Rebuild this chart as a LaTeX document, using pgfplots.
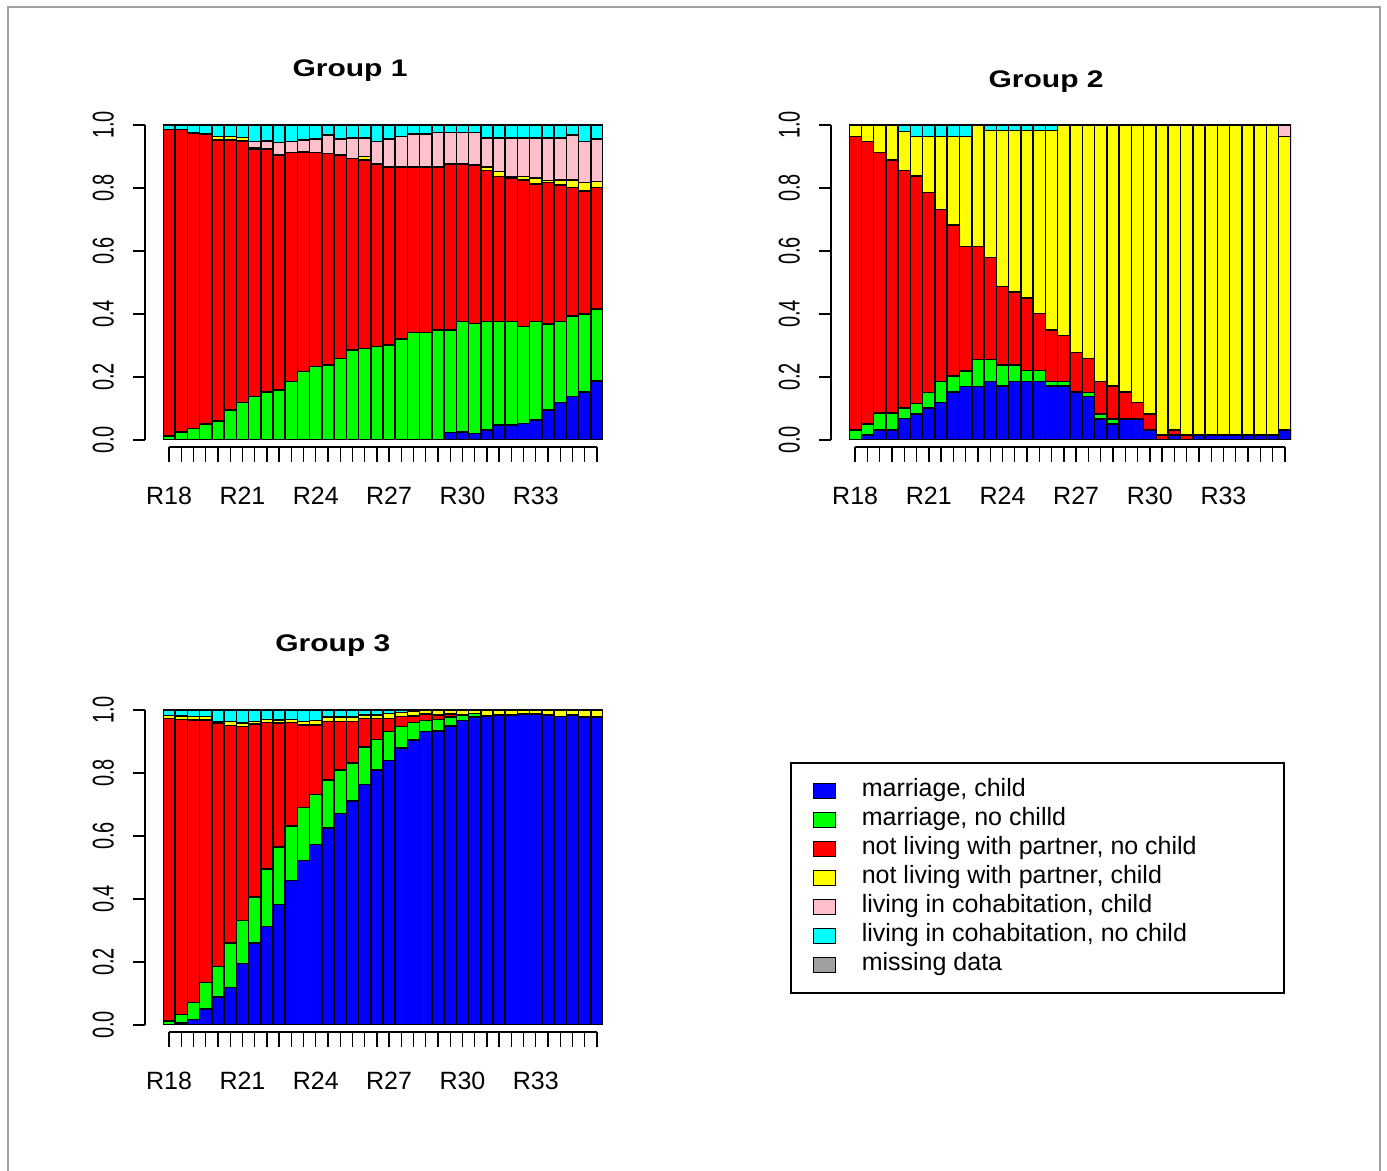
\documentclass[border=0pt]{standalone}
\usepackage{fontspec}
\setmainfont{Liberation Sans}
\usepackage{graphicx}
\usepackage{pgfplots}
\usepackage{pgfplotstable}
\pgfplotsset{compat=1.18}

\definecolor{cB}{HTML}{0000FF}
\definecolor{cG}{HTML}{00FF00}
\definecolor{cR}{HTML}{FF0000}
\definecolor{cY}{HTML}{FFFF00}
\definecolor{cP}{HTML}{FFC0CB}
\definecolor{cC}{HTML}{00FFFF}
\definecolor{cM}{HTML}{A0A0A0}
\definecolor{frame}{HTML}{A0A0A0}

% columns: B = marriage, child; G = marriage, no child; R = not living with partner, no child;
% Y = not living with partner, child; P = cohabitation, child; C = cohabitation, no child
\pgfplotstableread{
x B G R Y P C
0 0 .013 .973 0 0 .014
1 0 .026 .960 0 0 .014
2 0 .037 .937 0 0 .026
3 0 .051 .920 0 0 .029
4 0 .061 .891 .011 0 .037
5 0 .095 .857 .011 0 .037
6 0 .119 .830 .012 0 .039
7 0 .138 .785 .005 .019 .053
8 0 .153 .770 0 .026 .051
9 0 .159 .746 0 .040 .055
10 0 .185 .727 0 .035 .053
11 0 .217 .698 0 .037 .048
12 0 .233 .679 0 .043 .045
13 0 .238 .672 0 .058 .032
14 0 .259 .646 0 .050 .045
15 0 .286 .608 0 .064 .042
16 0 .291 .598 .011 .058 .042
17 0 .296 .580 0 .071 .053
18 0 .302 .564 0 .089 .045
19 0 .320 .546 0 .097 .037
20 0 .341 .525 0 .105 .029
21 0 .342 .524 0 .105 .029
22 0 .349 .517 0 .110 .024
23 .023 .326 .527 0 .100 .024
24 .026 .350 .500 0 .100 .024
25 .021 .349 .503 0 .103 .024
26 .032 .344 .479 .011 .092 .042
27 .048 .328 .460 .016 .106 .042
28 .048 .328 .455 .005 .122 .042
29 .053 .307 .465 .011 .122 .042
30 .063 .313 .437 .018 .127 .042
31 .095 .273 .449 .006 .135 .042
32 .119 .257 .434 .015 .133 .042
33 .138 .256 .408 .023 .143 .032
34 .153 .247 .390 .027 .130 .053
35 .188 .228 .386 .018 .135 .045
}\groupA

\pgfplotstableread{
x B G R Y P C
0 0 .032 .931 .037 0 0
1 .016 .034 .897 .053 0 0
2 .032 .053 .827 .088 0 0
3 .032 .053 .804 .111 0 0
4 .069 .032 .754 .124 0 .021
5 .083 .033 .722 .125 0 .037
6 .101 .049 .635 .178 0 .037
7 .119 .066 .547 .231 0 .037
8 .153 .050 .480 .280 0 .037
9 .169 .050 .395 .349 0 .037
10 .169 .087 .358 .386 0 0
11 .185 .071 .324 .402 0 .018
12 .171 .067 .249 .495 0 .018
13 .185 .053 .231 .513 0 .018
14 .185 .035 .230 .532 0 .018
15 .185 .035 .182 .580 0 .018
16 .171 .014 .164 .633 0 .018
17 .171 .014 .146 .669 0 0
18 .153 0 .124 .723 0 0
19 .138 .012 .109 .741 0 0
20 .066 .017 .102 .815 0 0
21 .051 .015 .105 .829 0 0
22 .066 0 .087 .847 0 0
23 .066 0 .053 .881 0 0
24 .032 0 .051 .917 0 0
25 0 0 .016 .984 0 0
26 .016 0 .016 .968 0 0
27 0 0 .016 .984 0 0
28 .016 0 0 .984 0 0
29 .016 0 0 .984 0 0
30 .016 0 0 .984 0 0
31 .016 0 0 .984 0 0
32 .016 0 0 .984 0 0
33 .016 0 0 .984 0 0
34 .016 0 0 .984 0 0
35 .032 0 0 .931 .037 0
}\groupB

\pgfplotstableread{
x B G R Y P C
0 0 .013 .960 .010 0 .017
1 .007 .027 .936 .011 0 .019
2 .018 .053 .897 .011 0 .021
3 .050 .085 .833 .011 0 .021
4 .089 .097 .772 .004 0 .038
5 .119 .141 .690 .013 0 .037
6 .196 .135 .616 .011 0 .042
7 .260 .146 .549 .008 0 .037
8 .313 .183 .464 .010 0 .030
9 .382 .183 .393 .010 0 .032
10 .459 .172 .329 .010 0 .030
11 .522 .168 .262 .011 0 .037
12 .573 .159 .220 .014 0 .034
13 .626 .151 .186 .014 0 .023
14 .671 .138 .154 .014 0 .023
15 .711 .121 .131 .014 0 .023
16 .764 .119 .090 .011 0 .016
17 .809 .098 .066 .011 0 .016
18 .839 .092 .042 .016 0 .011
19 .880 .067 .032 .013 0 .008
20 .904 .056 .021 .014 0 .005
21 .931 .035 .021 .013 0 0
22 .934 .036 .014 .016 0 0
23 .949 .028 .010 .013 0 0
24 .966 .018 0 .016 0 0
25 .977 .012 0 .011 0 0
26 .981 0 0 .019 0 0
27 .984 0 0 .016 0 0
28 .984 0 0 .016 0 0
29 .987 0 0 .013 0 0
30 .987 0 0 .013 0 0
31 .984 0 0 .016 0 0
32 .979 0 0 .021 0 0
33 .984 0 0 .016 0 0
34 .977 0 0 .023 0 0
35 .977 0 0 .023 0 0
}\groupC

\pgfplotsset{
  basefont/.style={font=\fontsize{12.5}{15}\selectfont},
  bars/.style={
    basefont, scale only axis, width=220pt, height=157.5pt,
    anchor=south west,
    xmin=-0.5, xmax=35.5, ymin=0, ymax=1, enlargelimits=false,
    axis lines=none, xtick=\empty, ytick=\empty,
    ybar stacked, bar width=1,
    title style={font=\bfseries\fontsize{12}{14}\selectfont, anchor=center},
    ylabel style={anchor=center},
    every axis plot/.append style={draw=black, line width=0.75pt},
  },
  yax/.style={
    basefont, scale only axis, width=5pt, height=157.5pt, anchor=south west,
    xmin=0, xmax=1, ymin=0, ymax=1, enlargelimits=false,
    axis y line*=left, axis x line=none,
    tick align=outside, major tick length=6pt,
    ytick={0,0.2,0.4,0.6,0.8,1},
    yticklabel={\scalebox{0.8}[1.2]{\pgfmathprintnumber[fixed,fixed zerofill,precision=1,assume math mode=true]{\tick}}},
    yticklabel style={rotate=90, anchor=south},
    yticklabel shift=6pt,
    tick style={black, line width=0.7pt},
    axis line style={black, line width=0.7pt},
  },
  xax/.style={
    basefont, scale only axis, width=213.89pt, height=5pt, anchor=south west,
    xmin=0, xmax=35, ymin=0, ymax=1, enlargelimits=false,
    axis x line*=bottom, axis y line=none,
    tick align=outside, major tick length=7.5pt,
    xtick={0,...,35},
    xticklabels={R18,,,,,,R21,,,,,,R24,,,,,,R27,,,,,,R30,,,,,,R33,,,,,},
    xticklabel shift=9pt,
    tick style={black, line width=0.7pt},
    axis line style={black, line width=0.7pt},
  },
}

\begin{document}
\begin{tikzpicture}
\path[use as bounding box] (0,0) rectangle (693.5pt,585.5pt);
\draw[frame, line width=1.2pt] (4pt,0pt) -- (4pt,582pt) -- (690pt,582pt) -- (690pt,0pt);

% ---------------- Group 1
\begin{axis}[yax, at={(72.5pt,365.5pt)}]\end{axis}
\begin{axis}[xax, at={(84.56pt,362pt)}]\end{axis}
\begin{axis}[bars, at={(81.5pt,365.5pt)},
  title={\scalebox{1.25}[1]{Group 1}}, title style={at={(axis description cs:0.425,1.133)}},
  ylabel={\scalebox{0.8}[1.15]{Freq. (n=146)}}, ylabel style={at={(axis description cs:-0.295,0.5)}}]
\addplot[fill=cB] table[x=x,y=B]{\groupA};
\addplot[fill=cG] table[x=x,y=G]{\groupA};
\addplot[fill=cR] table[x=x,y=R]{\groupA};
\addplot[fill=cY] table[x=x,y=Y]{\groupA};
\addplot[fill=cP] table[x=x,y=P]{\groupA};
\addplot[fill=cC] table[x=x,y=C]{\groupA};
\end{axis}

% ---------------- Group 2
\begin{axis}[yax, at={(415.5pt,365.5pt)}]\end{axis}
\begin{axis}[xax, at={(427.57pt,362pt)}, width=214.86pt]\end{axis}
\begin{axis}[bars, at={(424.5pt,365.5pt)}, width=221pt,
  title={\scalebox{1.25}[1]{Group 2}}, title style={at={(axis description cs:0.446,1.101)}},
  ylabel={\scalebox{0.8}[1.15]{Freq. (n=57)}}, ylabel style={at={(axis description cs:-0.292,0.5)}}]
\addplot[fill=cB] table[x=x,y=B]{\groupB};
\addplot[fill=cG] table[x=x,y=G]{\groupB};
\addplot[fill=cR] table[x=x,y=R]{\groupB};
\addplot[fill=cY] table[x=x,y=Y]{\groupB};
\addplot[fill=cP] table[x=x,y=P]{\groupB};
\addplot[fill=cC] table[x=x,y=C]{\groupB};
\end{axis}

% ---------------- Group 3
\begin{axis}[yax, at={(72.5pt,73pt)}]\end{axis}
\begin{axis}[xax, at={(84.56pt,69.5pt)}]\end{axis}
\begin{axis}[bars, at={(81.5pt,73pt)},
  title={\scalebox{1.25}[1]{Group 3}}, title style={at={(axis description cs:0.386,1.165)}},
  ylabel={\scalebox{0.8}[1.15]{Freq. (n=531)}}, ylabel style={at={(axis description cs:-0.30,0.5)}}]
\addplot[fill=cB] table[x=x,y=B]{\groupC};
\addplot[fill=cG] table[x=x,y=G]{\groupC};
\addplot[fill=cR] table[x=x,y=R]{\groupC};
\addplot[fill=cY] table[x=x,y=Y]{\groupC};
\addplot[fill=cP] table[x=x,y=P]{\groupC};
\addplot[fill=cC] table[x=x,y=C]{\groupC};
\end{axis}

% ---------------- Legend
\begin{axis}[at={(395pt,89.5pt)}, anchor=south west, scale only axis,
  width=246pt, height=115pt, hide axis, xmin=0, xmax=1, ymin=0, ymax=1,
  basefont,
  legend cell align=left,
  legend style={at={(0,1)}, anchor=north west, draw=black, line width=0.8pt,
    inner xsep=0pt, inner ysep=6.75pt, row sep=0pt,
    nodes={inner sep=0pt, text height=10pt, text depth=4.5pt}},
  legend image code/.code={\draw[#1,draw=black,line width=0.6pt] (11.5pt,-3.75pt) rectangle (22.5pt,3.75pt); \path[draw=none,fill=none] (0pt,0pt) rectangle (35.5pt,0.1pt);}]
\addlegendimage{fill=cB}\addlegendentry{\makebox[211pt][l]{marriage, child}}
\addlegendimage{fill=cG}\addlegendentry{marriage, no chilld}
\addlegendimage{fill=cR}\addlegendentry{not living with partner, no child}
\addlegendimage{fill=cY}\addlegendentry{not living with partner, child}
\addlegendimage{fill=cP}\addlegendentry{living in cohabitation, child}
\addlegendimage{fill=cC}\addlegendentry{living in cohabitation, no child}
\addlegendimage{fill=cM}\addlegendentry{missing data}
\end{axis}
\end{tikzpicture}
\end{document}
